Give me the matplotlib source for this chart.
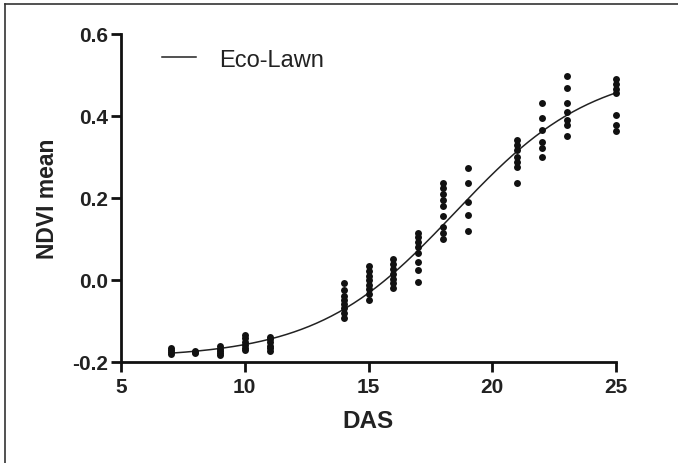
import numpy as np
import matplotlib
matplotlib.use("Agg")
import matplotlib.pyplot as plt
from matplotlib.lines import Line2D

plt.rcParams['font.family'] = ['Liberation Sans', 'DejaVu Sans']

# Observed NDVI values per sampling day (DAS)
das_days = [7, 8, 9, 10, 11, 14, 15, 16, 17, 18, 19, 21, 22, 23, 25]
ndvi_obs = [
    [-0.165, -0.17, -0.175, -0.18],
    [-0.172, -0.175, -0.178],
    [-0.162, -0.168, -0.172, -0.178, -0.182],
    [-0.135, -0.142, -0.15, -0.158, -0.165, -0.17],
    [-0.138, -0.145, -0.152, -0.16, -0.165, -0.172],
    [-0.007, -0.025, -0.038, -0.048, -0.058, -0.068, -0.08, -0.093],
    [0.034, 0.022, 0.01, 0.0, -0.012, -0.022, -0.033, -0.048],
    [0.051, 0.04, 0.028, 0.015, 0.003, -0.007, -0.02],
    [0.115, 0.104, 0.093, 0.08, 0.066, 0.044, 0.024, -0.005],
    [0.237, 0.225, 0.21, 0.195, 0.18, 0.155, 0.13, 0.115, 0.10],
    [0.273, 0.237, 0.19, 0.159, 0.12],
    [0.341, 0.329, 0.317, 0.30, 0.288, 0.276, 0.237],
    [0.432, 0.395, 0.366, 0.337, 0.322, 0.30],
    [0.498, 0.468, 0.432, 0.41, 0.39, 0.378, 0.351],
    [0.49, 0.478, 0.466, 0.456, 0.402, 0.378, 0.363],
]

# Boltzmann sigmoid fit parameters
fit_bottom = -0.19
fit_top = 0.52
fit_v50 = 18.5
fit_slope = 2.8
fit_xrange = [7, 25]

xticks = [5, 10, 15, 20, 25]
yticks = [-0.2, 0.0, 0.2, 0.4, 0.6]
ytick_labels = ['-0.2', '0.0', '0.2', '0.4', '0.6']

fig = plt.figure(figsize=(6.78, 4.64), dpi=100)
ax = fig.add_axes([121/678, 1-363/464, (616-121)/678, (363-35)/464])

xs, ys = [], []
for d, vals in zip(das_days, ndvi_obs):
    xs.extend([d]*len(vals))
    ys.extend(vals)
ax.scatter(xs, ys, s=25, color='#111111', zorder=3, linewidths=0, clip_on=False)

xc = np.linspace(fit_xrange[0], fit_xrange[1], 300)
yc = fit_bottom + (fit_top - fit_bottom) / (1 + np.exp((fit_v50 - xc) / fit_slope))
ax.plot(xc, yc, color='#222222', lw=1.1, clip_on=False)

ax.set_xlim(5, 25)
ax.set_ylim(-0.2, 0.6)
ax.set_xticks(xticks)
ax.set_yticks(yticks)
ax.set_yticklabels(ytick_labels)
for s in ['top', 'right']:
    ax.spines[s].set_visible(False)
for s in ['left', 'bottom']:
    ax.spines[s].set_linewidth(2)
    ax.spines[s].set_color('#111111')
ax.tick_params(direction='out', width=2, length=7, labelsize=15, pad=2, color='#111111')
ax.tick_params(axis='x', pad=4)
for lab in ax.get_xticklabels() + ax.get_yticklabels():
    lab.set_fontweight('bold')
    lab.set_color('#222222')
ax.set_xlabel('DAS', fontsize=17.5, fontweight='bold', labelpad=9, color='#222222')
ax.set_ylabel('NDVI mean', fontsize=16.5, fontweight='bold', labelpad=10, color='#222222')

leg = ax.legend(handles=[Line2D([], [], color='#222222', lw=1.1)], labels=['Eco-Lawn'],
                loc='upper left', bbox_to_anchor=(0.04, 1.02), frameon=False,
                fontsize=17, handlelength=1.45, handletextpad=0.95)
for t in leg.get_texts():
    t.set_color('#222222')

# figure frame
fig.add_artist(Line2D([5/678, 5/678], [0, 1-5/464], transform=fig.transFigure, color='#333333', lw=1.2))
fig.add_artist(Line2D([5/678, 1], [1-5/464, 1-5/464], transform=fig.transFigure, color='#333333', lw=1.2))

fig.savefig('out.png', dpi=100)
